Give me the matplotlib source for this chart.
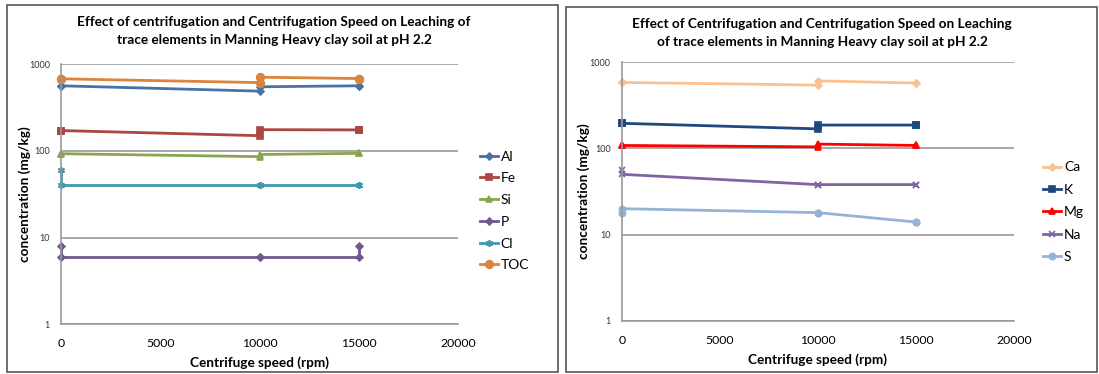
import matplotlib.pyplot as plt
from matplotlib.patches import Rectangle

# Centrifuge speed: each speed was sampled twice
speed = [0, 0, 10000, 10000, 15000, 15000]

# Left chart: trace elements (mg/kg)
al = [565, 565, 490, 550, 565, 565]
fe = [172, 172, 150, 176, 175, 175]
si = [93, 93, 86, 91, 94, 94]
p = [8, 6, 6, 6, 6, 8]
cl = [60, 40, 40, 40, 40, 40]
toc = [680, 680, 615, 710, 685, 685]

# Right chart: major cations and S (mg/kg)
ca = [580, 580, 540, 605, 570, 570]
k = [195, 195, 168, 186, 186, 186]
mg = [108, 108, 104, 112, 108, 108]
na = [56, 50, 38, 38, 38, 38]
s = [18, 20, 18, 18, 14, 14]

FONT = ['Lato', 'DejaVu Sans']
plt.rcParams['font.family'] = FONT

W, H = 1099, 374
fig = plt.figure(figsize=(W / 100, H / 100), dpi=100)


def px_axes(x0, y0, x1, y1):
    """Add axes from pixel box (left, top, right, bottom)"""
    return fig.add_axes([x0 / W, 1 - y1 / H, (x1 - x0) / W, (y1 - y0) / H])


def style_axes(ax, ylabel_x):
    ax.set_yscale('log')
    ax.set_ylim(1, 1000)
    ax.set_xlim(0, 20000)
    ax.set_xticks([0, 5000, 10000, 15000, 20000])
    ax.set_yticks([1, 10, 100, 1000])
    ax.set_yticklabels(['1', '10', '100', '1000'])
    ax.minorticks_off()
    ax.tick_params(axis='y', length=0, labelsize=6.5, pad=8, colors='#333333')
    ax.tick_params(axis='x', length=0, labelsize=8.8, pad=10)
    for side in ['top', 'right']:
        ax.spines[side].set_visible(False)
    for side in ['left', 'bottom']:
        ax.spines[side].set_color('#999999')
        ax.spines[side].set_linewidth(1.2)
    ax.grid(axis='y', color='#999999', linewidth=1.2)
    ax.set_axisbelow(True)
    ax.set_xlabel('Centrifuge speed (rpm)', fontsize=9.8, fontweight='bold', labelpad=5)
    ax.set_ylabel('concentration (mg/kg)', fontsize=9.8, fontweight='bold')
    ax.yaxis.set_label_coords(ylabel_x, 0.5)


# chart frames
fig.patches.append(Rectangle((7 / W, 2 / H), 551 / W, 367 / H, transform=fig.transFigure,
                             fill=False, edgecolor='#555555', linewidth=1.2))
fig.patches.append(Rectangle((566 / W, 2 / H), 531 / W, 365 / H, transform=fig.transFigure,
                             fill=False, edgecolor='#555555', linewidth=1.2))

# ---- left chart ----
ax1 = px_axes(61, 64.3, 458.3, 324.3)
style_axes(ax1, -0.075)
left_series = [
    ('Al', al, '#4572A7', 'D', 3.5),
    ('Fe', fe, '#AA4643', 's', 5),
    ('Si', si, '#89A54E', '^', 5),
    ('P', p, '#71588F', 'D', 3.5),
    ('Cl', cl, '#4198AF', (6, 2, 0), 5),
    ('TOC', toc, '#DB843D', 'o', 5.5),
]
for name, vals, col, mk, ms in left_series:
    ax1.plot(speed, vals, color=col, marker=mk, markersize=ms, linewidth=2,
             markeredgewidth=1.2, label=name, clip_on=False)
ax1.legend(loc='center left', bbox_to_anchor=(1.04, 0.436), frameon=False, fontsize=10,
           handlelength=1.3, handletextpad=0.2, labelspacing=0.7, borderaxespad=0)
fig.text(274 / W, 1 - 31 / H,
         'Effect of centrifugation and Centrifugation Speed on Leaching of\n'
         'trace elements in Manning Heavy clay soil at pH 2.2',
         ha='center', va='center', fontsize=9.8, fontweight='bold', linespacing=1.6)

# ---- right chart ----
ax2 = px_axes(621.7, 62, 1014, 321)
style_axes(ax2, -0.081)
right_series = [
    ('Ca', ca, '#FAC090', 'D', 3.5),
    ('K', k, '#1F497D', 's', 5),
    ('Mg', mg, '#FF0000', '^', 4.5),
    ('Na', na, '#8064A2', 'x', 4.5),
    ('S', s, '#95B3D7', 'o', 4.5),
]
for name, vals, col, mk, ms in right_series:
    ax2.plot(speed, vals, color=col, marker=mk, markersize=ms, linewidth=2,
             markeredgewidth=1.2, label=name, clip_on=False)
ax2.legend(loc='center left', bbox_to_anchor=(1.06, 0.42), frameon=False, fontsize=10,
           handlelength=1.3, handletextpad=0.2, labelspacing=0.75, borderaxespad=0)
fig.text(822 / W, 1 - 33 / H,
         'Effect of Centrifugation and Centrifugation Speed on Leaching\n'
         'of trace elements in Manning Heavy clay soil at pH 2.2',
         ha='center', va='center', fontsize=9.8, fontweight='bold', linespacing=1.6)

fig.savefig('out.png', dpi=100)
